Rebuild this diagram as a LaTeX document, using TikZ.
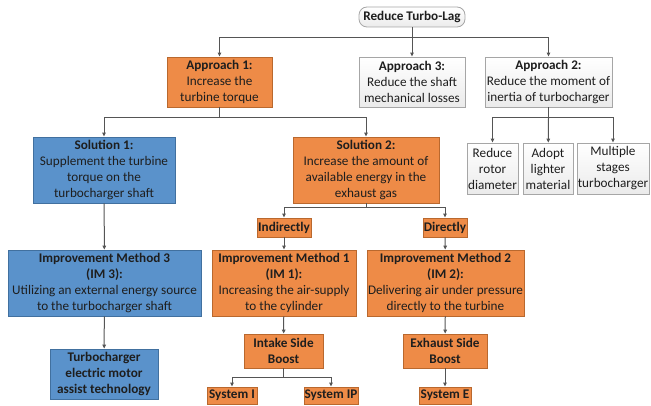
\documentclass[tikz,border=0pt]{standalone}
\usepackage{fontspec}
\setmainfont{Carlito}
\usetikzlibrary{arrows.meta}
\definecolor{orF}{HTML}{EE8B47}
\definecolor{orD}{HTML}{B9682E}
\definecolor{blF}{HTML}{5A92CB}
\definecolor{blD}{HTML}{41709F}
\definecolor{grD}{HTML}{A6A6A6}
\definecolor{lnC}{HTML}{555555}
\definecolor{txC}{HTML}{1E1E1E}
\tikzset{
  bx/.style={rectangle, align=center, inner sep=0pt, line width=0.8pt, text=txC,
    font=\fontsize{13.2}{16}\selectfont},
  orb/.style={bx, fill=orF, draw=orD},
  blb/.style={bx, fill=blF, draw=blD},
  grb/.style={bx, top color=white, bottom color=black!8, draw=grD},
  ln/.style={draw=lnC, line width=1pt},
  arr/.style={ln, -{Triangle[length=4pt,width=3.5pt]}}
}
\begin{document}
\begin{tikzpicture}[x=1pt,y=-1pt]
\useasboundingbox (0,0) rectangle (651,406);
% top
\node[grb, rounded corners=8pt, minimum width=106pt, minimum height=20pt] (root) at (412,17) {\textbf{Reduce Turbo-Lag}};
\node[orb, minimum width=105pt, minimum height=50pt] (a1) at (219.5,82) {\textbf{Approach 1:}\\Increase the\\turbine torque};
\node[grb, minimum width=106pt, minimum height=50pt] (a3) at (412,82) {\textbf{Approach 3:}\\Reduce the shaft\\mechanical losses};
\node[grb, minimum width=127pt, minimum height=50pt] (a2) at (548.5,82) {\textbf{Approach 2:}\\Reduce the moment of\\inertia of turbocharger};
% solutions
\node[blb, minimum width=142pt, minimum height=66pt] (s1) at (104,170) {\textbf{Solution 1:}\\Supplement the turbine\\torque on the\\turbocharger shaft};
\node[orb, minimum width=146pt, minimum height=66pt] (s2) at (366,170) {\textbf{Solution 2:}\\Increase the amount of\\available energy in the\\exhaust gas};
\node[grb, minimum width=51pt, minimum height=51pt] (r1) at (492.5,168.5) {Reduce\\rotor\\diameter};
\node[grb, minimum width=50pt, minimum height=51pt] (r2) at (548,168.5) {Adopt\\lighter\\material};
\node[grb, minimum width=72pt, minimum height=51pt] (r3) at (613,168.5) {Multiple\\stages\\turbocharger};
% direct / indirect
\node[orb, minimum width=54pt, minimum height=19pt] (ind) at (284,227.5) {\textbf{Indirectly}};
\node[orb, minimum width=44pt, minimum height=19pt] (dir) at (445,227.5) {\textbf{Directly}};
% improvement methods
\node[blb, minimum width=193pt, minimum height=66pt] (im3) at (104.5,283) {\textbf{Improvement Method 3}\\\textbf{(IM 3):}\\Utilizing an external energy source\\to the turbocharger shaft};
\node[orb, minimum width=144pt, minimum height=66pt] (im1) at (284,283) {\textbf{Improvement Method 1}\\\textbf{(IM 1):}\\Increasing the air-supply\\to the cylinder};
\node[orb, minimum width=157pt, minimum height=66pt] (im2) at (445.5,283) {\textbf{Improvement Method 2}\\\textbf{(IM 2):}\\Delivering air under pressure\\directly to the turbine};
% bottom
\node[blb, minimum width=108pt, minimum height=50pt] (tem) at (104,374) {\textbf{Turbocharger}\\\textbf{electric motor}\\\textbf{assist technology}};
\node[orb, minimum width=79pt, minimum height=34pt] (isb) at (283.5,351) {\textbf{Intake Side}\\\textbf{Boost}};
\node[orb, minimum width=84pt, minimum height=34pt] (esb) at (445,351) {\textbf{Exhaust Side}\\\textbf{Boost}};
\node[orb, minimum width=50pt, minimum height=17pt] (sI) at (232,395.5) {\textbf{System I}};
\node[orb, minimum width=54pt, minimum height=17pt] (sIP) at (331,395.5) {\textbf{System IP}};
\node[orb, minimum width=52pt, minimum height=17pt] (sE) at (445,395.5) {\textbf{System E}};
% bus coordinates
\coordinate (b0) at (412,38);
\coordinate (b1) at (219.5,118);
\coordinate (b2) at (548.5,118);
\coordinate (b3) at (366,208);
\coordinate (b4) at (283.5,377);
% connectors
\draw[ln] (root) -- (b0);
\draw[arr] (b0) -| (a1);
\draw[arr] (b0) -- (a3);
\draw[arr] (b0) -| (a2);
\draw[ln] (a1) -- (b1);
\draw[arr] (b1) -| (s1);
\draw[arr] (b1) -| (s2);
\draw[ln] (a2) -- (b2);
\draw[arr] (b2) -| (r1);
\draw[arr] (b2) -- (r2);
\draw[arr] (b2) -| (r3);
\draw[ln] (s2) -- (b3);
\draw[arr] (b3) -| (ind);
\draw[arr] (b3) -| (dir);
\draw[arr] (ind) -- (im1);
\draw[arr] (dir) -- (im2);
\draw[arr] (s1) -- (im3);
\draw[arr] (im3) -- (tem);
\draw[arr] (im1) -- (isb);
\draw[arr] (im2) -- (esb);
\draw[ln] (isb) -- (b4);
\draw[arr] (b4) -| (sI);
\draw[arr] (b4) -| (sIP);
\draw[arr] (esb) -- (sE);
\end{tikzpicture}
\end{document}
